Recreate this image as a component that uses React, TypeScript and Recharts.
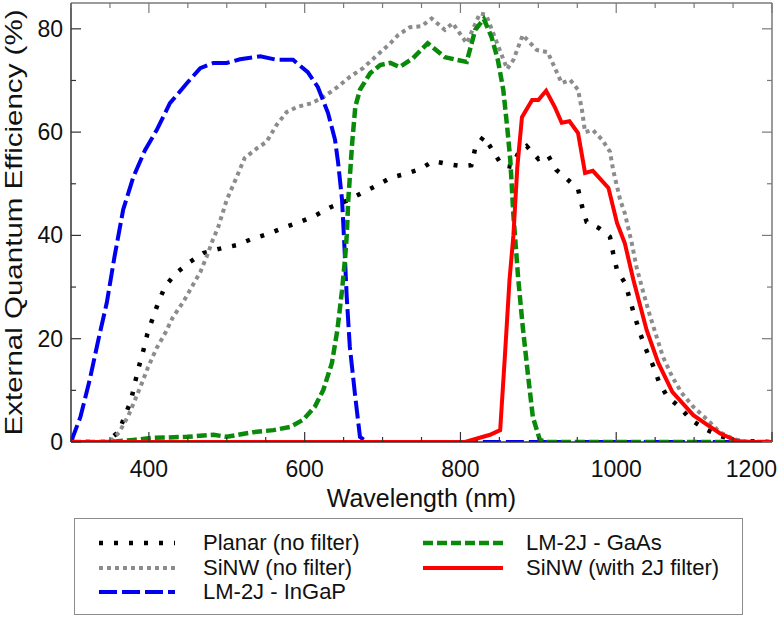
import { Label, Line, LineChart, XAxis, YAxis } from "recharts";

// EQE curves as [wavelength (nm), EQE (%)]
const planarNoFilter: [number, number][] = [
  [300, 0], [345, 0], [361, 1.9], [369, 5], [377, 8], [382, 11.4], [387, 14.5],
  [393, 17.8], [398, 20.9], [405, 24], [412, 27], [421, 30.2], [435, 32.7],
  [452, 34.8], [470, 36.6], [490, 37.4], [512, 38.1], [532, 39.3], [553, 40.3],
  [573, 41.5], [594, 42.6], [613, 43.8], [634, 45.5], [654, 46.7], [673, 48.2],
  [693, 49.7], [711, 51.2], [729, 51.9], [749, 52.9], [765, 54.4], [784, 53.8],
  [802, 53.4], [814, 53.6], [819, 56.9], [830, 59.2], [842, 56.3], [853, 53.6],
  [866, 53.3], [875, 56.2], [885, 57.3], [900, 54.8], [912, 55.6], [923, 52.7],
  [937, 50.9], [951, 49], [956, 45.7], [962, 42.6], [978, 41.4], [992, 39.7],
  [996, 36.6], [1001, 33.3], [1012, 30.6], [1018, 27.3], [1024, 24.2],
  [1031, 20.9], [1038, 18], [1047, 14.9], [1055, 11.6], [1065, 8.9], [1081, 6.8],
  [1096, 4.3], [1114, 2.5], [1133, 1.2], [1155, 0.2], [1200, 0],
];

const sinwNoFilter: [number, number][] = [
  [300, 0], [350, 0], [362, 1.9], [374, 5.2], [382, 8.1], [391, 11.4], [399, 14.5],
  [410, 18.2], [421, 21.1], [431, 24.2], [444, 27.1], [455, 30], [466, 32.9],
  [474, 35.8], [482, 39.1], [489, 41.6], [500, 46.9], [511, 50.7], [523, 55],
  [539, 56.9], [551, 58.1], [564, 61.4], [577, 63.9], [591, 64.9], [609, 65.6],
  [624, 66.8], [642, 68.7], [658, 70.7], [675, 72.4], [693, 74.9], [710, 77.2],
  [720, 78.8], [735, 80.3], [750, 80.5], [763, 82], [780, 79.8], [790, 81.1],
  [808, 77.2], [825, 83], [833, 82.7], [844, 78.4], [860, 72.2], [868, 74],
  [880, 78.8], [898, 75.9], [912, 75.5], [930, 69.5], [941, 70.1], [951, 68.2],
  [956, 64.3], [960, 60], [970, 60.4], [982, 58.5], [992, 56.2], [996, 52.7],
  [1005, 46.9], [1011, 44.3], [1020, 38.5], [1026, 33.9], [1034, 29.4],
  [1043, 24.6], [1052, 20.3], [1060, 16.5], [1072, 12.6], [1084, 9.5],
  [1099, 6.8], [1117, 4.3], [1133, 1.9], [1150, 0.6], [1168, 0], [1200, 0],
];

const lm2jIngap: [number, number][] = [
  [300, 0], [312, 4.8], [324, 12], [335, 19.7], [346, 27], [356, 36], [367, 45],
  [380, 51.3], [395, 56.5], [410, 60.4], [427, 65.6], [449, 69.5], [466, 72.4],
  [483, 73.4], [500, 73.4], [517, 74.1], [543, 74.7], [564, 74], [585, 74],
  [604, 71.6], [617, 68.7], [630, 63.7], [639, 58.5], [643, 54], [648, 46.9],
  [651, 38], [654, 28.1], [658, 18.4], [665, 8.7], [671, 1], [680, 0], [1200, 0],
];

const lm2jGaas: [number, number][] = [
  [300, 0], [350, 0], [380, 0.4], [405, 0.8], [449, 1], [483, 1.4], [500, 1],
  [534, 1.9], [560, 2.3], [581, 2.9], [598, 4.3], [613, 6.8], [624, 10.1],
  [635, 15.3], [642, 21.7], [648, 29.4], [652, 35.8], [654, 40], [656, 46.9],
  [661, 57.9], [665, 64.9], [671, 68.2], [684, 71.4], [697, 73], [710, 73.4],
  [722, 72.6], [739, 74.3], [758, 77.2], [780, 74.5], [795, 74], [808, 73.6],
  [819, 79.8], [830, 81.9], [840, 78.4], [848, 74], [855, 68.2], [860, 61],
  [864, 54.6], [868, 44], [874, 31.9], [880, 22.3], [887, 12.6], [893, 4.8],
  [902, 0.4], [910, 0], [1200, 0],
];

const sinwWith2jFilter: [number, number][] = [
  [300, 0], [806, 0], [838, 1.4], [851, 2.3], [857, 16.5], [863, 31.4], [868, 40],
  [873, 53.2], [879, 62.9], [892, 66.2], [900, 66.2], [910, 68], [921, 64.9],
  [930, 61.8], [940, 62.1], [951, 59.8], [960, 52.1], [970, 52.5], [990, 49.2],
  [1001, 42.4], [1011, 38.5], [1022, 31.4], [1039, 21.7], [1054, 15.3],
  [1072, 9.7], [1099, 5.2], [1117, 3.3], [1133, 1.7], [1155, 0.2], [1170, 0],
  [1200, 0],
];

const xTicks = [300, 350, 400, 450, 500, 550, 600, 650, 700, 750, 800, 850, 900, 950, 1000, 1050, 1100, 1150, 1200];
const yTicks = [0, 10, 20, 30, 40, 50, 60, 70, 80];

const FONT = '"Liberation Sans", Arial, Helvetica, sans-serif';
const AXIS = "#333";
const FRAME = "#7a7a7a";
const MAJOR = 10;
const MINOR = 5;

const toPoints = (pts: [number, number][]) => pts.map(([x, y]) => ({ x, y }));

const series = [
  { key: "planar", name: "Planar (no filter)", data: planarNoFilter, color: "#000000", dash: "4 11", width: 4.5 },
  { key: "sinw", name: "SiNW (no filter)", data: sinwNoFilter, color: "#8c8c8c", dash: "4 4", width: 4 },
  { key: "ingap", name: "LM-2J - InGaP", data: lm2jIngap, color: "#0000f0", dash: "18 5", width: 4 },
  { key: "gaas", name: "LM-2J - GaAs", data: lm2jGaas, color: "#0a8a0a", dash: "10 4", width: 4.5 },
  { key: "filter", name: "SiNW (with 2J filter)", data: sinwWith2jFilter, color: "#ff0000", dash: undefined, width: 4 },
];

// legend slots: [column, row]
const legendSlots: [number, number][] = [[0, 0], [0, 1], [0, 2], [1, 0], [1, 1]];

const isMajorX = (v: number) => v % 200 === 0;
const isMajorY = (v: number) => v % 20 === 0;

function BottomTick({ x, y, payload }: any) {
  const v = payload.value;
  const major = isMajorX(v);
  const last = v === 1200;
  return (
    <g>
      <line x1={x} x2={x} y1={y} y2={y - (major ? MAJOR : MINOR)} stroke={AXIS} strokeWidth={1.2} />
      {major && (
        <text x={last ? x + 5 : x} y={y + 35} textAnchor={last ? "end" : "middle"} fontFamily={FONT} fontSize={23} fill="#111">
          {v}
        </text>
      )}
    </g>
  );
}

function TopTick({ x, y, payload }: any) {
  const major = isMajorX(payload.value);
  return <line x1={x} x2={x} y1={y} y2={y + (major ? MAJOR : MINOR)} stroke={FRAME} strokeWidth={1.2} />;
}

function LeftTick({ x, y, payload }: any) {
  const v = payload.value;
  const major = isMajorY(v);
  return (
    <g>
      <line x1={x} x2={x + (major ? MAJOR : MINOR)} y1={y} y2={y} stroke={AXIS} strokeWidth={1.2} />
      {major && (
        <text x={x - 8} y={y + 8} textAnchor="end" fontFamily={FONT} fontSize={23} fill="#111">
          {v}
        </text>
      )}
    </g>
  );
}

function RightTick({ x, y, payload }: any) {
  const major = isMajorY(payload.value);
  return <line x1={x} x2={x - (major ? MAJOR : MINOR)} y1={y} y2={y} stroke={FRAME} strokeWidth={1.2} />;
}

function XTitle({ viewBox }: any) {
  const { x, y, width } = viewBox;
  return (
    <text x={x + width / 2} y={y + 65} textAnchor="middle" fontFamily={FONT} fontSize={25} fill="#111">
      Wavelength (nm)
    </text>
  );
}

function YTitle({ viewBox }: any) {
  const { y, height } = viewBox;
  const cx = 13;
  const cy = y + height / 2;
  return (
    <text
      x={cx}
      y={cy}
      transform={`rotate(-90 ${cx} ${cy})`}
      textAnchor="middle"
      dominantBaseline="central"
      fontFamily={FONT}
      fontSize={24}
      textLength={426}
      lengthAdjust="spacingAndGlyphs"
      fill="#111"
    >
      External Quantum Efficiency (%)
    </text>
  );
}

function ChartLegend() {
  return (
    <div
      style={{
        position: "absolute",
        left: 74,
        top: 518,
        width: 667,
        height: 95,
        border: "1.5px solid #8c8c8c",
        fontFamily: FONT,
        fontSize: 22,
        color: "#111",
      }}
    >
      {series.map((s, i) => {
        const [col, row] = legendSlots[i];
        const top = 24 + row * 24.5;
        const sx = col === 0 ? 24 : 348;
        const sw = col === 0 ? 76 : 80;
        const tx = col === 0 ? 128 : 451;
        return (
          <div key={s.key}>
            <svg style={{ position: "absolute", left: sx, top: top - 4 }} width={sw} height={8}>
              <line x1={0} x2={sw} y1={4} y2={4} stroke={s.color} strokeWidth={s.width} strokeDasharray={s.dash} />
            </svg>
            <div style={{ position: "absolute", left: tx, top: top - 13, lineHeight: "26px", whiteSpace: "nowrap" }}>
              {s.name}
            </div>
          </div>
        );
      })}
    </div>
  );
}

export default function App() {
  return (
    <div style={{ position: "absolute", left: 0, top: 0, width: 782, height: 618, background: "#fff" }}>
      <LineChart width={782} height={618} margin={{ top: 0, right: 0, bottom: 0, left: 0 }}>
        <XAxis
          dataKey="x"
          type="number"
          domain={[300, 1200]}
          allowDataOverflow
          ticks={xTicks}
          interval={0}
          height={176}
          tickSize={0}
          tickMargin={0}
          tickLine={false}
          tick={<BottomTick />}
          axisLine={{ stroke: AXIS, strokeWidth: 1.5 }}
        >
          <Label content={<XTitle />} />
        </XAxis>
        <XAxis
          xAxisId="top"
          orientation="top"
          dataKey="x"
          type="number"
          domain={[300, 1200]}
          allowDataOverflow
          ticks={xTicks}
          interval={0}
          height={3}
          tickSize={0}
          tickMargin={0}
          tickLine={false}
          tick={<TopTick />}
          axisLine={{ stroke: FRAME, strokeWidth: 1.5 }}
        />
        <YAxis
          type="number"
          domain={[0, 85]}
          allowDataOverflow
          ticks={yTicks}
          interval={0}
          width={71}
          tickSize={0}
          tickMargin={0}
          tickLine={false}
          tick={<LeftTick />}
          axisLine={{ stroke: AXIS, strokeWidth: 1.5 }}
        >
          <Label content={<YTitle />} />
        </YAxis>
        <YAxis
          yAxisId="right"
          orientation="right"
          type="number"
          domain={[0, 85]}
          allowDataOverflow
          ticks={yTicks}
          interval={0}
          width={10}
          tickSize={0}
          tickMargin={0}
          tickLine={false}
          tick={<RightTick />}
          axisLine={{ stroke: FRAME, strokeWidth: 1.5 }}
        />
        {series.map((s) => (
          <Line
            key={s.key}
            data={toPoints(s.data)}
            dataKey="y"
            type="linear"
            stroke={s.color}
            strokeWidth={s.width}
            strokeDasharray={s.dash}
            dot={false}
            activeDot={false}
            isAnimationActive={false}
          />
        ))}
      </LineChart>
      <ChartLegend />
    </div>
  );
}
